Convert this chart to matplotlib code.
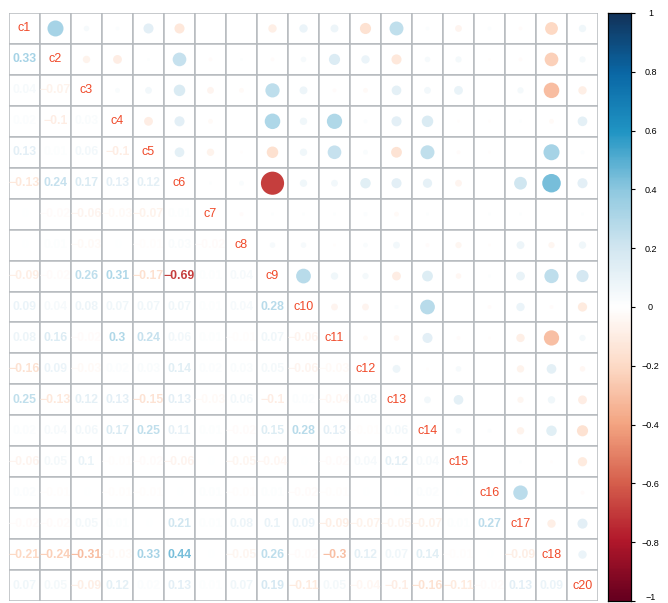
import matplotlib

matplotlib.use("Agg")

import matplotlib.pyplot as plt
import matplotlib.transforms as mtransforms
import numpy as np
from matplotlib.colors import LinearSegmentedColormap
from matplotlib.patches import Circle, Rectangle


LABELS = ["c1", "c2", "c3", "c4", "c5", "c6", "c7", "c8", "c9", "c10",
          "c11", "c12", "c13", "c14", "c15", "c16", "c17", "c18", "c20"]

# lower triangle, row by row (row i holds correlations with c1..c(i-1))
LOWER_ROWS = [
    [],
    [0.33],
    [0.04, -0.07],
    [0.02, -0.1, 0.03],
    [0.13, 0.01, 0.06, -0.1],
    [-0.13, 0.24, 0.17, 0.13, 0.12],
    [0, -0.02, -0.06, -0.03, -0.07, 0.01],
    [0, 0.01, -0.03, 0, -0.01, 0.03, -0.02],
    [-0.09, -0.02, 0.26, 0.31, -0.17, -0.69, 0.01, 0.04],
    [0.09, 0.04, 0.08, 0.07, 0.07, 0.07, 0.01, 0.04, 0.28],
    [0.08, 0.16, -0.02, 0.3, 0.24, 0.06, 0.01, -0.01, 0.07, -0.06],
    [-0.16, 0.09, -0.03, 0.02, 0.03, 0.14, 0.02, 0.03, 0.05, -0.06, -0.03],
    [0.25, -0.13, 0.12, 0.13, -0.15, 0.13, -0.03, 0.06, -0.1, 0.02, -0.04, 0.08],
    [0.02, 0.04, 0.06, 0.17, 0.25, 0.11, 0.01, -0.02, 0.15, 0.28, 0.13, -0.01, 0.06],
    [-0.06, 0.05, 0.1, -0.01, -0.02, -0.06, 0, -0.05, -0.04, 0, -0.02, 0.04, 0.12, 0.04],
    [0.02, -0.01, 0, -0.01, -0.01, 0, 0.01, -0.01, 0.01, -0.02, -0.01, 0, 0, 0.02, 0],
    [-0.02, -0.02, 0.05, 0.01, 0, 0.21, 0.01, 0.08, 0.1, 0.09, -0.09, -0.07, -0.05,
     -0.07, 0.01, 0.27],
    [-0.21, -0.24, -0.31, -0.03, 0.33, 0.44, 0, -0.05, 0.26, -0.02, -0.3, 0.12, 0.07,
     0.14, -0.01, 0, -0.09],
    [0.07, 0.05, -0.09, 0.12, 0.02, 0.13, 0.01, 0.07, 0.19, -0.11, 0.05, -0.04, -0.1,
     -0.16, -0.11, -0.02, 0.13, 0.09],
]

CBAR_TICKS = [-1, -0.8, -0.6, -0.4, -0.2, 0, 0.2, 0.4, 0.6, 0.8, 1]

CMAP = LinearSegmentedColormap.from_list(
    "corr_rdbu",
    ["#67001F", "#B2182B", "#D6604D", "#F4A582", "#FDDBC7", "#FFFFFF",
     "#D3E7F1", "#8FC9E0", "#2195C4", "#0A68A6", "#12345C"],
)
LABEL_COLOR = "#F04A2A"
GRID_COLOR = "#B6BABE"


def fmt(value):
    text = f"{value:.2f}".rstrip("0").rstrip(".")
    if text in ("-0", ""):
        text = "0"
    return text.replace("-", "\u2212")


def build_matrix():
    n = len(LABELS)
    corr = np.eye(n)
    for i, row in enumerate(LOWER_ROWS):
        for j, value in enumerate(row):
            corr[i, j] = value
            corr[j, i] = value
    return corr


def main():
    corr = build_matrix()
    n = len(LABELS)
    color_of = lambda v: CMAP((v + 1) / 2)

    fig = plt.figure(figsize=(6.68, 6.03), dpi=100)
    W, H = 668, 603
    left, right, top, bottom = 9, 598, 13, 601
    ax = fig.add_axes([left / W, 1 - bottom / H, (right - left) / W, (bottom - top) / H])
    ax.set_xlim(0, n)
    ax.set_ylim(n, 0)
    ax.axis("off")

    for i in range(n):
        for j in range(n):
            ax.add_patch(Rectangle((j, i), 1, 1, facecolor="white",
                                   edgecolor=GRID_COLOR, linewidth=1.1))
            value = corr[i, j]
            if i == j:
                ax.text(j + 0.5, i + 0.5, LABELS[i], ha="center", va="center",
                        fontsize=9, color=LABEL_COLOR, family="Liberation Sans")
            elif j > i:
                radius = 0.45 * np.sqrt(abs(value))
                if radius > 0:
                    ax.add_patch(Circle((j + 0.5, i + 0.5), radius,
                                        facecolor=color_of(value), edgecolor="none"))
            else:
                ax.text(j + 0.5, i + 0.5, fmt(value), ha="center", va="center",
                        fontsize=8.8, fontweight="bold", color=color_of(value),
                        family="Liberation Sans")

    # colour legend
    cax = fig.add_axes([608 / W, 1 - bottom / H, 23 / W, (bottom - top) / H])
    gradient = np.linspace(-1, 1, 200).reshape(-1, 1)
    cax.imshow(gradient, cmap=CMAP, vmin=-1, vmax=1, aspect="auto",
               origin="lower", extent=(0, 1, -1, 1))
    cax.set_xticks([])
    cax.yaxis.tick_right()
    cax.set_yticks(CBAR_TICKS)
    cax.set_yticklabels([fmt(t) for t in CBAR_TICKS], ha="center",
                        fontsize=6.5, family="Liberation Sans")
    cax.tick_params(axis="y", length=3, width=0.8, pad=11)
    for spine in cax.spines.values():
        spine.set_linewidth(0.9)
        spine.set_color("black")

    # keep the bottom label inside the figure
    lift = mtransforms.ScaledTranslation(0, 3 / 72, fig.dpi_scale_trans)
    bottom_label = cax.get_yticklabels()[0]
    bottom_label.set_transform(bottom_label.get_transform() + lift)

    fig.savefig("out.png", dpi=100)
    plt.close(fig)


if __name__ == "__main__":
    main()
